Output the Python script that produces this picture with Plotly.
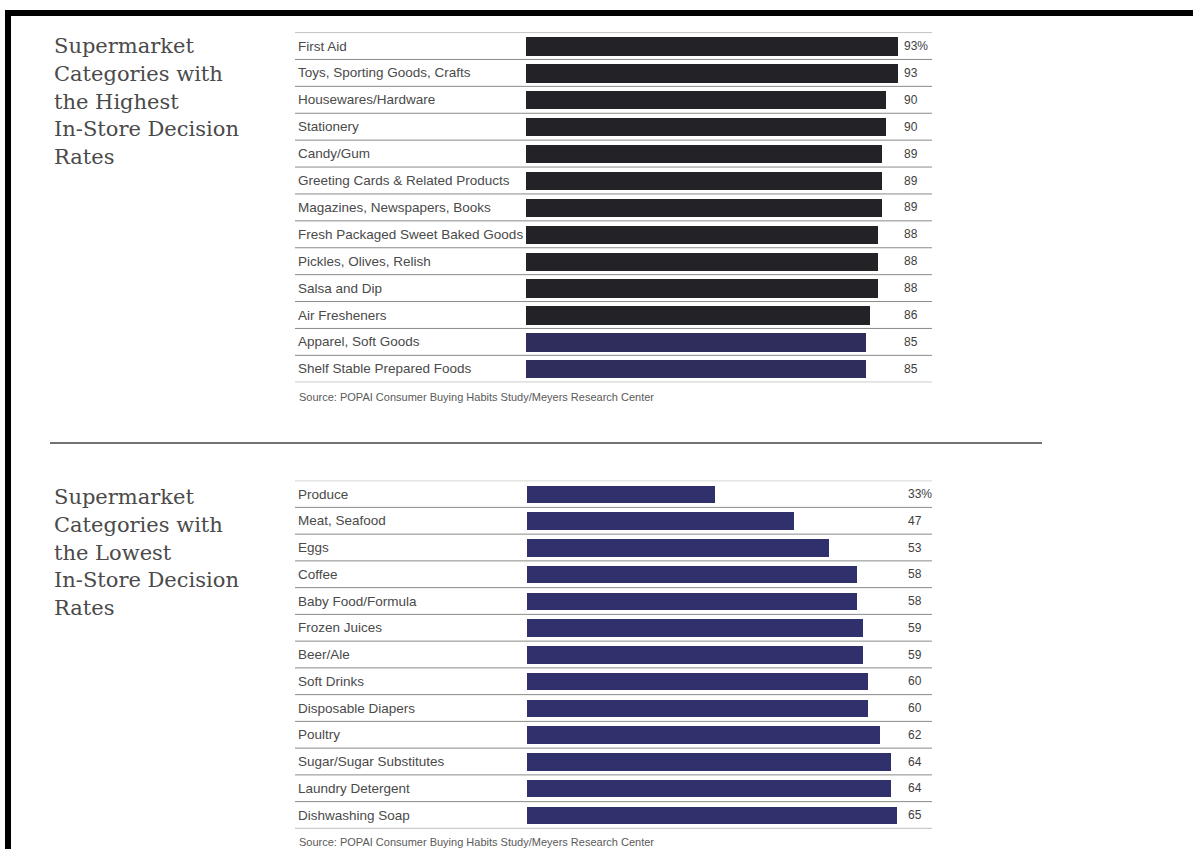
import plotly.graph_objects as go

W, H = 1193, 849

# Highest in-store decision rates (percent)
high_categories = [
    "First Aid", "Toys, Sporting Goods, Crafts", "Housewares/Hardware", "Stationery",
    "Candy/Gum", "Greeting Cards & Related Products", "Magazines, Newspapers, Books",
    "Fresh Packaged Sweet Baked Goods", "Pickles, Olives, Relish", "Salsa and Dip",
    "Air Fresheners", "Apparel, Soft Goods", "Shelf Stable Prepared Foods",
]
high_values = [93, 93, 90, 90, 89, 89, 89, 88, 88, 88, 86, 85, 85]
high_labels = ["93%", "93", "90", "90", "89", "89", "89", "88", "88", "88", "86", "85", "85"]

# Lowest in-store decision rates (percent)
low_categories = [
    "Produce", "Meat, Seafood", "Eggs", "Coffee", "Baby Food/Formula", "Frozen Juices",
    "Beer/Ale", "Soft Drinks", "Disposable Diapers", "Poultry", "Sugar/Sugar Substitutes",
    "Laundry Detergent", "Dishwashing Soap",
]
low_values = [33, 47, 53, 58, 58, 59, 59, 60, 60, 62, 64, 64, 65]
low_labels = ["33%", "47", "53", "58", "58", "59", "59", "60", "60", "62", "64", "64", "65"]

high_title = ["Supermarket", "Categories with", "the Highest", "In-Store Decision", "Rates"]
low_title = ["Supermarket", "Categories with", "the Lowest", "In-Store Decision", "Rates"]
source = "Source: POPAI Consumer Buying Habits Study/Meyers Research Center"

DARK = "#232327"
NAVY_TOP = "#2e2d5c"
NAVY = "#30306c"
TEXT = "#4a4a4a"
RULE = "#8a8a8a"
LABEL_FONT = "Liberation Sans, Arial, sans-serif"
TITLE_FONT = "DejaVu Serif, Liberation Serif, serif"


def px(x):
    return x / W


def py(y):
    return 1 - y / H


high_colors = [DARK] * 11 + [NAVY_TOP] * 2
low_colors = [NAVY] * len(low_values)

fig = go.Figure()
fig.add_trace(go.Bar(
    y=high_categories, x=high_values, orientation="h", width=0.68,
    marker=dict(color=high_colors, line=dict(width=0)),
    xaxis="x", yaxis="y", hoverinfo="skip",
))
fig.add_trace(go.Bar(
    y=low_categories, x=low_values, orientation="h", width=0.66,
    marker=dict(color=low_colors, line=dict(width=0)),
    xaxis="x2", yaxis="y2", hoverinfo="skip",
))

# panel geometry in page pixels
top_row0, top_pitch = 46.0, 26.9
bot_row0, bot_pitch = 494.0, 26.75
n_top, n_bot = len(high_categories), len(low_categories)
top_y0 = top_row0 - top_pitch / 2
top_y1 = top_y0 + n_top * top_pitch
bot_y0 = bot_row0 - bot_pitch / 2
bot_y1 = bot_y0 + n_bot * bot_pitch

axis_common = dict(showgrid=False, zeroline=False, showticklabels=False,
                   showline=False, ticks="", fixedrange=True)
fig.update_layout(
    width=W, height=H, margin=dict(l=0, r=0, t=0, b=0),
    paper_bgcolor="white", plot_bgcolor="rgba(0,0,0,0)",
    showlegend=False, bargap=0,
    xaxis=dict(domain=[px(526), px(926)], range=[0, 100], anchor="y", **axis_common),
    yaxis=dict(domain=[py(top_y1), py(top_y0)], range=[n_top - 0.5, -0.5],
               type="category", anchor="x", **axis_common),
    xaxis2=dict(domain=[px(527), px(927)], range=[0, 400 / 5.69], anchor="y2", **axis_common),
    yaxis2=dict(domain=[py(bot_y1), py(bot_y0)], range=[n_bot - 0.5, -0.5],
                type="category", anchor="x2", **axis_common),
)

shapes = []
annotations = []


def add_panel(cats, labels, yref, title_lines, title_top, src_y, value_x):
    n = len(cats)
    # horizontal rules above the first row and below each row
    for i in range(n + 1):
        shapes.append(dict(type="line", xref="paper", yref=yref,
                           x0=px(295), x1=px(932), y0=i - 0.5, y1=i - 0.5,
                           line=dict(color=RULE, width=1)))
    for i, (c, v) in enumerate(zip(cats, labels)):
        annotations.append(dict(xref="paper", yref=yref, x=px(296), y=c, text=c,
                                showarrow=False, xanchor="left", yanchor="middle",
                                font=dict(family=LABEL_FONT, size=13.5, color=TEXT)))
        annotations.append(dict(xref="paper", yref=yref, x=px(value_x), y=c, text=v,
                                showarrow=False, xanchor="left", yanchor="middle",
                                font=dict(family=LABEL_FONT, size=12, color="#3e3e3e")))
    for k, line in enumerate(title_lines):
        annotations.append(dict(xref="paper", yref="paper", x=px(52),
                                y=py(title_top + k * 27.8), text=line,
                                showarrow=False, xanchor="left", yanchor="middle",
                                font=dict(family=TITLE_FONT, size=21, color="#4a4a4a")))
    annotations.append(dict(xref="paper", yref="paper", x=px(297), y=py(src_y), text=source,
                            showarrow=False, xanchor="left", yanchor="middle",
                            font=dict(family=LABEL_FONT, size=11, color="#5a5a5a")))


add_panel(high_categories, high_labels, "y", high_title, 46, 397, 902)
add_panel(low_categories, low_labels, "y2", low_title, 497, 842, 906)

# separator between the two panels
shapes.append(dict(type="line", xref="paper", yref="paper", x0=px(50), x1=px(1042),
                   y0=py(443), y1=py(443), line=dict(color="#444444", width=1.6)))
# heavy frame on the top and left edges
shapes.append(dict(type="rect", xref="paper", yref="paper", x0=px(5), x1=px(1193),
                   y0=py(16), y1=py(10), fillcolor="black", line=dict(width=0)))
shapes.append(dict(type="rect", xref="paper", yref="paper", x0=px(5), x1=px(11),
                   y0=0, y1=py(10), fillcolor="black", line=dict(width=0)))

fig.update_layout(shapes=shapes, annotations=annotations)
fig.write_html("out.html")
